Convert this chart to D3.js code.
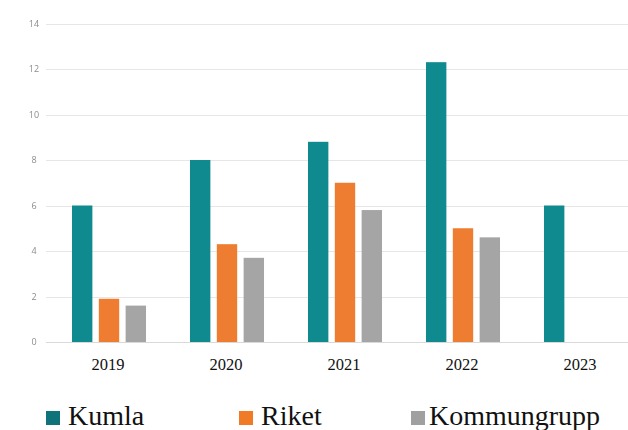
<!DOCTYPE html>
<html>
<head>
<meta charset="utf-8">
<script src="https://cdn.jsdelivr.net/npm/d3@7"></script>
<style>
  html, body { margin: 0; padding: 0; background: #fff; }
  svg { display: block; }
</style>
</head>
<body>
<svg id="chart" width="628" height="430"></svg>
<script>
// Years on the x axis
const years = ["2019", "2020", "2021", "2022", "2023"];
// Series names shown in the legend
const seriesNames = ["Kumla", "Riket", "Kommungrupp"];
// Values per series, one per year (null = no value)
const kumla = [6.0, 8.0, 8.8, 12.3, 6.0];
const riket = [1.9, 4.3, 7.0, 5.0, null];
const kommungrupp = [1.6, 3.7, 5.8, 4.6, null];
// Y axis ticks
const yTicks = [0, 2, 4, 6, 8, 10, 12, 14];

const barColors = { "Kumla": "#0f8a8e", "Riket": "#ee7d31", "Kommungrupp": "#a5a5a5" };
const legendColors = { "Kumla": "#0e7479", "Riket": "#f07a26", "Kommungrupp": "#a0a0a0" };

const seriesValues = { "Kumla": kumla, "Riket": riket, "Kommungrupp": kommungrupp };
const rows = years.map((y, i) => ({
  year: y,
  values: seriesNames.map(s => ({ series: s, value: seriesValues[s][i] }))
}));

const svg = d3.select("#chart");

const x0 = d3.scaleBand().domain(years).range([50, 640]).padding(0);
const x1 = d3.scaleBand().domain(seriesNames).range([0, x0.bandwidth()])
  .paddingInner(0.24).paddingOuter(0.82);
const y = d3.scaleLinear().domain([0, 14]).range([342, 23.5]);

// soft focus used for the small axis numbers
const defs = svg.append("defs");
defs.append("filter").attr("id", "soft")
  .append("feGaussianBlur").attr("stdDeviation", 0.6);

// horizontal gridlines
svg.append("g").selectAll("line").data(yTicks).join("line")
  .attr("x1", 46).attr("x2", 628)
  .attr("y1", d => Math.round(y(d)) + 0.5).attr("y2", d => Math.round(y(d)) + 0.5)
  .attr("stroke", d => d === 0 ? "#d9d9d9" : "#e6e6e6")
  .attr("stroke-width", 1);

// y axis numbers
svg.append("g").attr("filter", "url(#soft)")
  .selectAll("text").data(yTicks).join("text")
  .attr("x", 34).attr("y", d => y(d) + 3)
  .attr("text-anchor", "middle")
  .attr("font-family", "Open Sans, sans-serif")
  .attr("font-size", 9)
  .attr("fill", "#8c8c8c")
  .text(d => d);

// bars
const groups = svg.append("g").selectAll("g").data(rows).join("g")
  .attr("transform", d => `translate(${x0(d.year)},0)`);

groups.selectAll("rect").data(d => d.values.filter(v => v.value != null)).join("rect")
  .attr("x", d => x1(d.series))
  .attr("width", x1.bandwidth())
  .attr("y", d => y(d.value))
  .attr("height", d => y(0) - y(d.value))
  .attr("fill", d => barColors[d.series]);

// year labels
svg.append("g").selectAll("text").data(years).join("text")
  .attr("x", d => x0(d) + x0.bandwidth() / 2 - 1)
  .attr("y", 370)
  .attr("text-anchor", "middle")
  .attr("font-family", "Liberation Serif, serif")
  .attr("font-size", 16.5)
  .attr("fill", "#111")
  .text(d => d);

// legend
const legendX = [46, 239, 411];
const legend = svg.append("g").selectAll("g").data(seriesNames).join("g")
  .attr("transform", (d, i) => `translate(${legendX[i]},0)`);
legend.append("rect")
  .attr("x", 0).attr("y", 411).attr("width", 14).attr("height", 14)
  .attr("fill", d => legendColors[d]);
legend.append("text")
  .attr("x", d => d === "Kommungrupp" ? 18 : 22).attr("y", 425)
  .attr("font-family", "Liberation Serif, serif")
  .attr("font-size", 28)
  .attr("fill", "#111")
  .text(d => d);
</script>
</body>
</html>
